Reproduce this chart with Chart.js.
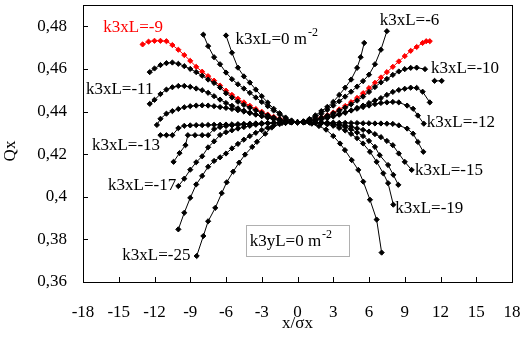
<!DOCTYPE html>
<html>
<head>
<meta charset="utf-8">
<script src="https://cdn.jsdelivr.net/npm/chart.js@4"></script>
<style>
  html, body { margin: 0; padding: 0; background: #fff; }
  canvas { display: block; }
</style>
</head>
<body>
<canvas id="chart" width="528" height="340"></canvas>
<script>
// Values (x/σx, Qx), one pair of arrays per k3xL curve
const xK0 = [-6, -5.5, -5, -4.5, -4, -3.5, -3, -2.5, -2, -1.5, -1, -0.5, 0, 0.5, 1, 1.5, 2, 2.5, 3, 3.5, 4, 4.5, 5, 5.3, 5.6];
const qK0 = [0.4757, 0.4676, 0.4606, 0.4565, 0.4536, 0.4503, 0.4472, 0.4442, 0.4413, 0.4392, 0.4372, 0.4358, 0.435, 0.4354, 0.4365, 0.4382, 0.4402, 0.4422, 0.4445, 0.4478, 0.4512, 0.455, 0.4605, 0.4655, 0.4722];

const xK6 = [-7.9, -7.5, -7, -6.5, -6, -5.5, -5, -4.5, -4, -3.5, -3, -2.5, -2, -1.5, -1, -0.5, 0, 0.5, 1, 1.5, 2, 2.5, 3, 3.5, 4, 4.5, 5, 5.5, 6, 6.5, 7, 7.5];
const qK6 = [0.4761, 0.4707, 0.4655, 0.4622, 0.4583, 0.4552, 0.4528, 0.4508, 0.4488, 0.4466, 0.4445, 0.4425, 0.4405, 0.4386, 0.4368, 0.4356, 0.435, 0.4353, 0.4362, 0.4375, 0.439, 0.4408, 0.4428, 0.4448, 0.447, 0.4493, 0.4517, 0.4543, 0.4573, 0.4622, 0.469, 0.4777];

const xK9 = [-13, -12.5, -12, -11.5, -11, -10.5, -10, -9.5, -9, -8.5, -8, -7.5, -7, -6.5, -6, -5.5, -5, -4.5, -4, -3.5, -3, -2.5, -2, -1.5, -1, -0.5, 0, 0.5, 1, 1.5, 2, 2.5, 3, 3.5, 4, 4.5, 5, 5.5, 6, 6.5, 7, 7.5, 8, 8.5, 9, 9.5, 10, 10.5, 10.8, 11.1];
const qK9 = [0.4715, 0.4728, 0.4732, 0.4732, 0.473, 0.4712, 0.469, 0.4665, 0.4638, 0.461, 0.4587, 0.4566, 0.4545, 0.4522, 0.4498, 0.4478, 0.446, 0.4443, 0.4427, 0.4412, 0.4399, 0.4386, 0.4375, 0.4366, 0.4358, 0.4352, 0.435, 0.4352, 0.4357, 0.4363, 0.4372, 0.4383, 0.4395, 0.441, 0.4426, 0.4444, 0.4464, 0.4486, 0.451, 0.4535, 0.456, 0.4585, 0.461, 0.4635, 0.466, 0.4685, 0.4703, 0.4722, 0.473, 0.473];

const xK10 = [-12.4, -12, -11.5, -11, -10.5, -10, -9.5, -9, -8.5, -8, -7.5, -7, -6.5, -6, -5.5, -5, -4.5, -4, -3.5, -3, -2.5, -2, -1.5, -1, -0.5, 0, 0.5, 1, 1.5, 2, 2.5, 3, 3.5, 4, 4.5, 5, 5.5, 6, 6.5, 7, 7.5, 8, 8.5, 9, 9.5, 10, 10.7, 11.1, 11.5, 12.1];
const qK10 = [0.4585, 0.4602, 0.4618, 0.4627, 0.463, 0.4624, 0.4613, 0.46, 0.4585, 0.4568, 0.455, 0.4534, 0.4513, 0.4486, 0.4466, 0.4446, 0.4431, 0.4418, 0.4405, 0.4393, 0.4382, 0.4372, 0.4364, 0.4357, 0.4352, 0.435, 0.4352, 0.4356, 0.4363, 0.4371, 0.4381, 0.4392, 0.4404, 0.4418, 0.4434, 0.4451, 0.447, 0.4492, 0.4515, 0.4537, 0.4553, 0.4572, 0.4588, 0.4599, 0.4605, 0.4606, 0.4599, null, 0.4544, 0.4544];

const xK11 = [-12.4, -12, -11.5, -11, -10.5, -10, -9.5, -9, -8.5, -8, -7.5, -7, -6.5, -6, -5.5, -5, -4.5, -4, -3.5, -3, -2.5, -2, -1.5, -1, -0.5, 0, 0.5, 1, 1.5, 2, 2.5, 3, 3.5, 4, 4.5, 5, 5.5, 6, 6.5, 7, 7.5, 8, 8.5, 9, 9.5, 10, 10.5, 11.1];
const qK11 = [0.4436, 0.4455, 0.4482, 0.4503, 0.4514, 0.452, 0.452, 0.4516, 0.4508, 0.45, 0.4488, 0.4472, 0.4456, 0.444, 0.4427, 0.4415, 0.4404, 0.4395, 0.4386, 0.4378, 0.4371, 0.4364, 0.4358, 0.4354, 0.4351, 0.435, 0.4351, 0.4354, 0.4358, 0.4363, 0.4369, 0.4377, 0.4385, 0.4394, 0.4405, 0.4417, 0.4428, 0.444, 0.4452, 0.4463, 0.4478, 0.4492, 0.4501, 0.4507, 0.4512, 0.4511, 0.4493, 0.4443];

const xK12 = [-11.8, -11.5, -11, -10.5, -10, -9.5, -9, -8.5, -8, -7.5, -7, -6.5, -6, -5.5, -5, -4.5, -4, -3.5, -3, -2.5, -2, -1.5, -1, -0.5, 0, 0.5, 1, 1.5, 2, 2.5, 3, 3.5, 4, 4.5, 5, 5.5, 6, 6.5, 7, 7.5, 8, 8.5, 9.2, 9.7, 10.1, 10.6];
const qK12 = [0.4337, 0.4366, 0.439, 0.4402, 0.4412, 0.442, 0.4425, 0.4428, 0.4429, 0.4428, 0.4425, 0.4421, 0.4417, 0.4412, 0.4406, 0.44, 0.4393, 0.4386, 0.438, 0.4374, 0.4367, 0.4361, 0.4356, 0.4352, 0.435, 0.4352, 0.4356, 0.4361, 0.4367, 0.4374, 0.4381, 0.4389, 0.4397, 0.4405, 0.4413, 0.4421, 0.4428, 0.4435, 0.444, 0.4443, 0.4445, 0.4443, 0.4428, 0.4413, 0.4381, 0.4343];

const xK13 = [-11.5, -11, -10.5, -10, -9.5, -9, -8.5, -8, -7.5, -7, -6.5, -6, -5.5, -5, -4.5, -4, -3.5, -3, -2.5, -2, -1.5, -1, -0.5, 0, 0.5, 1, 1.5, 2, 2.5, 3, 3.5, 4, 4.5, 5, 5.5, 6, 6.5, 7, 7.5, 8, 8.5, 9.2, 9.7, 10.1, 10.56];
const qK13 = [0.4289, 0.4289, 0.4289, 0.4322, 0.4333, 0.4335, 0.4336, 0.4336, 0.4337, 0.4338, 0.4338, 0.4339, 0.434, 0.4341, 0.4342, 0.4343, 0.4344, 0.4345, 0.4346, 0.4347, 0.4348, 0.4349, 0.435, 0.435, 0.435, 0.435, 0.4349, 0.4349, 0.4348, 0.4348, 0.4347, 0.4347, 0.4346, 0.4346, 0.4345, 0.4345, 0.4344, 0.4344, 0.4343, 0.4342, 0.4335, 0.432, 0.4296, 0.4257, 0.4211];

const xK15 = [-10.4, -9.9, -9.4, -9.2, -8.6, -8, -7.5, -7, -6.5, -6, -5.5, -5, -4.5, -4, -3.5, -3, -2.5, -2, -1.5, -1, -0.5, 0, 0.5, 1, 1.5, 2, 2.5, 3, 3.5, 4, 4.5, 5, 5.5, 6, 6.5, 7, 7.5, 8, 8.5, 9, 9.58];
const qK15 = [0.4164, 0.4205, 0.4242, 0.4289, 0.4289, 0.4289, 0.4289, 0.4318, 0.4327, 0.4332, 0.4335, 0.4337, 0.4339, 0.4341, 0.4343, 0.4344, 0.4345, 0.4346, 0.4347, 0.4348, 0.4349, 0.435, 0.4349, 0.4348, 0.4347, 0.4346, 0.4344, 0.4342, 0.4339, 0.4335, 0.4329, 0.4321, 0.4314, 0.4306, 0.4294, 0.428, 0.4262, 0.4242, 0.4203, 0.4164, 0.4126];

const xK17 = [-10, -9.5, -9, -8.5, -8, -7.5, -7, -6.5, -6, -5.5, -5, -4.5, -4, -3.5, -3, -2.5, -2, -1.5, -1, -0.5, 0, 0.5, 1, 1.5, 2, 2.5, 3, 3.5, 4, 4.5, 5, 5.5, 6, 6.5, 6.9, 7.6, 8.04, 8.46];
const qK17 = [0.405, 0.4085, 0.4127, 0.4162, 0.419, 0.4232, 0.426, 0.429, 0.4303, 0.4312, 0.432, 0.4327, 0.4333, 0.4338, 0.4342, 0.4345, 0.4347, 0.4348, 0.4349, 0.435, 0.435, 0.435, 0.4349, 0.4348, 0.4347, 0.4345, 0.4341, 0.4335, 0.4327, 0.4316, 0.4302, 0.4285, 0.4262, 0.4234, 0.4195, 0.4149, 0.4103, 0.4056];

const xK19 = [-10, -9.5, -9, -8.5, -8, -7.5, -7, -6.5, -6, -5.5, -5, -4.5, -4, -3.5, -3, -2.5, -2, -1.5, -1, -0.5, 0, 0.5, 1, 1.5, 2, 2.5, 3, 3.5, 4, 4.5, 5, 5.5, 6.08, 6.64, 7.2, 7.6, 8.04];
const qK19 = [0.3847, 0.3925, 0.3995, 0.4058, 0.4098, 0.4141, 0.4168, 0.4185, 0.4203, 0.4227, 0.4248, 0.4268, 0.4285, 0.43, 0.4313, 0.4324, 0.4334, 0.4341, 0.4346, 0.4349, 0.435, 0.4349, 0.4349, 0.4348, 0.4345, 0.434, 0.4333, 0.4323, 0.4311, 0.4295, 0.4275, 0.425, 0.4211, 0.4164, 0.411, 0.4064, 0.3963];

const xK25 = [-8.46, -7.9, -7.5, -6.9, -6.36, -5.94, -5.4, -4.9, -4.4, -3.8, -3.4, -2.7, -2.16, -1.3, -0.6, 0, 0.6, 1.2, 1.8, 2.4, 3, 3.57, 3.98, 4.55, 5.1, 5.52, 6.08, 6.64, 7.06];
const qK25 = [0.3722, 0.3816, 0.3885, 0.3948, 0.4017, 0.4068, 0.4118, 0.416, 0.4198, 0.4234, 0.4258, 0.4296, 0.4325, 0.4346, 0.4349, 0.435, 0.4349, 0.4343, 0.4332, 0.4315, 0.4285, 0.425, 0.4219, 0.4172, 0.4126, 0.4071, 0.3986, 0.3893, 0.3738];

const curveNames = ['0', '-6', '-10', '-11', '-12', '-13', '-15', '-17', '-19', '-25', '-9'];
const curveX = [xK0, xK6, xK10, xK11, xK12, xK13, xK15, xK17, xK19, xK25, xK9];
const curveQ = [qK0, qK6, qK10, qK11, qK12, qK13, qK15, qK17, qK19, qK25, qK9];

const xTicks = [-18, -15, -12, -9, -6, -3, 0, 3, 6, 9, 12, 15, 18];
const yTicks = [0.36, 0.38, 0.4, 0.42, 0.44, 0.46, 0.48];

// Curve labels, anchored in data units (left edge, vertical middle)
const notes = [
    { text: 'k3xL=-9', x: -16.3, y: 0.4795, color: '#ff0000' },
    { text: 'k3xL=0 m', sup: '-2', x: -5.2, y: 0.4737 },
    { text: 'k3xL=-6', x: 6.9, y: 0.4828 },
    { text: 'k3xL=-10', x: 11.2, y: 0.4600 },
    { text: 'k3xL=-11', x: -17.75, y: 0.4505 },
    { text: 'k3xL=-12', x: 10.85, y: 0.4349 },
    { text: 'k3xL=-13', x: -17.25, y: 0.4242 },
    { text: 'k3xL=-15', x: 9.85, y: 0.4121 },
    { text: 'k3xL=-17', x: -15.9, y: 0.4051 },
    { text: 'k3xL=-19', x: 8.2, y: 0.3944 },
    { text: 'k3xL=-25', x: -14.7, y: 0.3726 }
];

const SERIF = '"Liberation Serif", "Times New Roman", serif';
const FONT = '17px ' + SERIF;
const SUP_FONT = '12px ' + SERIF;

function drawText(ctx, text, sup, px, py, color) {
    ctx.save();
    ctx.fillStyle = color || '#000';
    ctx.font = FONT;
    ctx.textAlign = 'left';
    ctx.textBaseline = 'middle';
    ctx.fillText(text, px, py);
    if (sup) {
        const w = ctx.measureText(text).width;
        ctx.font = SUP_FONT;
        ctx.fillText(sup, px + w + 1, py - 7);
    }
    ctx.restore();
}

// drop the label overhang Chart.js adds, so the plot box sits where the original one is
function noOverhang(s) {
    s.paddingLeft = 0;
    s.paddingRight = 0;
    s.paddingTop = 0;
    s.paddingBottom = 0;
}

const decorations = {
    id: 'decorations',
    afterDraw(chart) {
        const ctx = chart.ctx;
        const area = chart.chartArea;
        const xs = chart.scales.x;
        const ys = chart.scales.y;

        ctx.save();
        ctx.strokeStyle = '#000';
        ctx.lineWidth = 1;
        // frame
        ctx.strokeRect(Math.round(area.left) + 0.5, Math.round(area.top) + 0.5,
            Math.round(area.right - area.left), Math.round(area.bottom - area.top));
        // inward tick marks
        ctx.beginPath();
        xTicks.forEach(v => {
            const px = Math.round(xs.getPixelForValue(v)) + 0.5;
            ctx.moveTo(px, area.bottom);
            ctx.lineTo(px, area.bottom - 5);
        });
        yTicks.forEach(v => {
            const py = Math.round(ys.getPixelForValue(v)) + 0.5;
            ctx.moveTo(area.left, py);
            ctx.lineTo(area.left + 5, py);
        });
        ctx.stroke();
        ctx.restore();

        // curve labels
        notes.forEach(n => {
            drawText(ctx, n.text, n.sup, xs.getPixelForValue(n.x), ys.getPixelForValue(n.y), n.color);
        });

        // k3yL box
        const bx0 = xs.getPixelForValue(-4.35), bx1 = xs.getPixelForValue(4.32);
        const by0 = ys.getPixelForValue(0.3866), by1 = ys.getPixelForValue(0.3722);
        ctx.save();
        ctx.fillStyle = '#fff';
        ctx.strokeStyle = '#b0b0b0';
        ctx.fillRect(bx0, by0, bx1 - bx0, by1 - by0);
        ctx.strokeRect(Math.round(bx0) + 0.5, Math.round(by0) + 0.5, Math.round(bx1 - bx0), Math.round(by1 - by0));
        ctx.restore();
        drawText(ctx, 'k3yL=0 m', '-2', bx0 + 4, (by0 + by1) / 2 + 1);

        // axis titles
        ctx.save();
        ctx.fillStyle = '#000';
        ctx.font = FONT;
        ctx.textAlign = 'center';
        ctx.textBaseline = 'middle';
        ctx.fillText('x/σx', (area.left + area.right) / 2, area.bottom + 42);
        ctx.translate(11, 151);
        ctx.rotate(-Math.PI / 2);
        ctx.fillText('Qx', 0, 0);
        ctx.restore();
    }
};

const datasets = curveNames.map((name, i) => {
    const isRed = name === '-9';
    const color = isRed ? '#ff0000' : '#000000';
    return {
        label: 'k3xL=' + name,
        data: curveX[i].map((x, j) => ({ x: x, y: curveQ[i][j] })),
        showLine: true,
        spanGaps: false,
        borderColor: color,
        backgroundColor: color,
        borderWidth: 1,
        pointStyle: 'rectRot',
        pointRadius: 2.6,
        pointBorderWidth: 1,
        pointBorderColor: color,
        pointBackgroundColor: color,
        tension: 0
    };
});

new Chart(document.getElementById('chart').getContext('2d'), {
    type: 'scatter',
    data: { datasets: datasets },
    options: {
        responsive: false,
        animation: false,
        devicePixelRatio: 1,
        layout: { padding: { top: 4, right: 16, left: 0, bottom: 0 } },
        plugins: {
            legend: { display: false },
            tooltip: { enabled: false }
        },
        scales: {
            x: {
                type: 'linear',
                min: -18,
                max: 18,
                afterFit: s => { s.height = 58; noOverhang(s); },
                grid: { display: false, drawTicks: false },
                border: { display: false },
                ticks: {
                    stepSize: 3,
                    padding: 20,
                    maxRotation: 0,
                    autoSkip: false,
                    color: '#000',
                    font: { family: SERIF, size: 17 }
                }
            },
            y: {
                type: 'linear',
                min: 0.36,
                max: 0.49,
                afterFit: s => { s.width = 83; noOverhang(s); },
                afterBuildTicks: s => { s.ticks = yTicks.map(v => ({ value: v })); },
                grid: { display: false, drawTicks: false },
                border: { display: false },
                ticks: {
                    padding: 16,
                    color: '#000',
                    font: { family: SERIF, size: 17 },
                    callback: v => String(+v.toFixed(2)).replace('.', ',')
                }
            }
        }
    },
    plugins: [decorations]
});
</script>
</body>
</html>
